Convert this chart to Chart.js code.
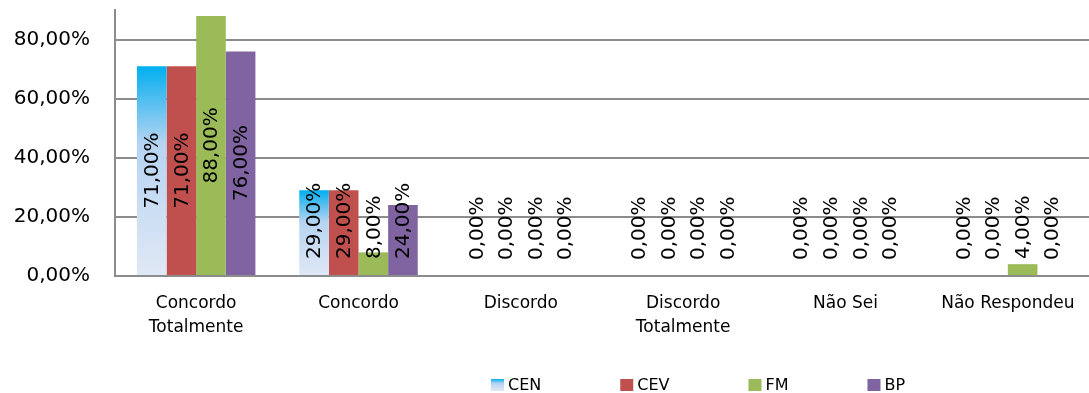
<!DOCTYPE html>
<html>
<head>
<meta charset="utf-8">
<script src="https://cdn.jsdelivr.net/npm/chart.js@4"></script>
<style>
  html, body { margin: 0; padding: 0; background: #fff; }
  #wrap { width: 1089px; height: 393px; position: relative; }
</style>
</head>
<body>
<div id="wrap"><canvas id="c" width="1089" height="393"></canvas></div>
<script>
const categories = [["Concordo", "Totalmente"], "Concordo", "Discordo", ["Discordo", "Totalmente"], "Não Sei", "Não Respondeu"];
const seriesNames = ["CEN", "CEV", "FM", "BP"];
const cenValues = [71, 29, 0, 0, 0, 0];
const cevValues = [71, 29, 0, 0, 0, 0];
const fmValues = [88, 8, 0, 0, 0, 4];
const bpValues = [76, 24, 0, 0, 0, 0];
const yTickValues = [0, 20, 40, 60, 80];

function fmtPct(v) { return v.toFixed(2).replace('.', ',') + '%'; }

function cenGradient(c, top, base) {
  const g = c.createLinearGradient(0, top, 0, base);
  g.addColorStop(0, '#00b0f0');
  g.addColorStop(0.15, '#4cbdf0');
  g.addColorStop(0.37, '#b6d4f2');
  g.addColorStop(1, '#e0e8f5');
  return g;
}

const solidColors = { CEV: '#c0504d', FM: '#9bbb59', BP: '#8064a2' };

function cenBg(ctx) {
  const chart = ctx.chart;
  if (!chart.chartArea || !chart.scales.y || ctx.raw === undefined) return '#9fd3f2';
  const y = chart.scales.y;
  const top = y.getPixelForValue(ctx.raw);
  const base = y.getPixelForValue(0);
  if (base - top < 1) return '#e2e9f6';
  return cenGradient(chart.ctx, top, base);
}

const dataLabels = {
  id: 'dataLabels',
  afterDatasetsDraw(chart) {
    const c = chart.ctx;
    c.save();
    c.font = '20px "DejaVu Sans"';
    c.fillStyle = '#000';
    c.textAlign = 'left';
    c.textBaseline = 'middle';
    chart.data.datasets.forEach((ds, di) => {
      const meta = chart.getDatasetMeta(di);
      meta.data.forEach((el, i) => {
        const txt = fmtPct(ds.data[i]);
        const L = c.measureText(txt).width;
        const center = (el.y + el.base) / 2;
        const bottom = Math.min(center + L / 2, el.base - 16);
        c.save();
        c.translate(el.x, bottom);
        c.rotate(-Math.PI / 2);
        c.fillText(txt, 0, 1);
        c.restore();
      });
    });
    c.restore();
  }
};

const customLegend = {
  id: 'customLegend',
  afterDraw(chart) {
    const c = chart.ctx;
    c.save();
    c.font = '16px "DejaVu Sans"';
    c.textBaseline = 'middle';
    c.textAlign = 'left';
    let x = 491;
    const boxW = 13, boxH = 12, yC = 385, pad = 75;
    chart.data.datasets.forEach((ds) => {
      const by = yC - boxH / 2;
      if (ds.label === 'CEN') {
        c.fillStyle = cenGradient(c, by, by + boxH);
      } else {
        c.fillStyle = solidColors[ds.label];
      }
      c.fillRect(x, by, boxW, boxH);
      c.fillStyle = '#000';
      const tx = x + boxW + 4;
      c.fillText(ds.label, tx, yC + 1);
      const w = boxW + 8 + c.measureText(ds.label).width;
      x += w + pad;
    });
    c.restore();
  }
};

Chart.defaults.font.family = '"DejaVu Sans"';
Chart.defaults.color = '#000';

new Chart(document.getElementById('c'), {
  type: 'bar',
  data: {
    labels: categories,
    datasets: [
      { label: seriesNames[0], data: cenValues, backgroundColor: cenBg },
      { label: seriesNames[1], data: cevValues, backgroundColor: solidColors.CEV },
      { label: seriesNames[2], data: fmValues, backgroundColor: solidColors.FM },
      { label: seriesNames[3], data: bpValues, backgroundColor: solidColors.BP }
    ]
  },
  options: {
    responsive: false,
    animation: false,
    devicePixelRatio: 1,
    layout: { padding: { top: 10, right: 0, bottom: 47, left: 0 } },
    datasets: { bar: { barPercentage: 1, categoryPercentage: 0.73, borderWidth: 0 } },
    plugins: {
      legend: { display: false },
      tooltip: { enabled: false }
    },
    scales: {
      x: {
        grid: { display: false, drawTicks: false },
        border: { display: true, color: '#8c8c8c', width: 2 },
        ticks: { font: { size: 17, lineHeight: 1.4 }, padding: 16, maxRotation: 0, autoSkip: false, color: '#000' },
        afterFit(s) { s.height = 70; s.paddingLeft = 0; s.paddingRight = 0; }
      },
      y: {
        min: 0,
        max: 90,
        grid: { color: '#8c8c8c', lineWidth: 2, drawTicks: false },
        border: { display: true, color: '#8c8c8c', width: 2 },
        ticks: { stepSize: 20, font: { size: 20 }, padding: 25, color: '#000', callback: (v) => fmtPct(v) },
        afterBuildTicks(s) { s.ticks = yTickValues.map(v => ({ value: v })); },
        afterFit(s) { s.width = 115; s.paddingTop = 0; s.paddingBottom = 0; }
      }
    }
  },
  plugins: [dataLabels, customLegend]
});
</script>
</body>
</html>
